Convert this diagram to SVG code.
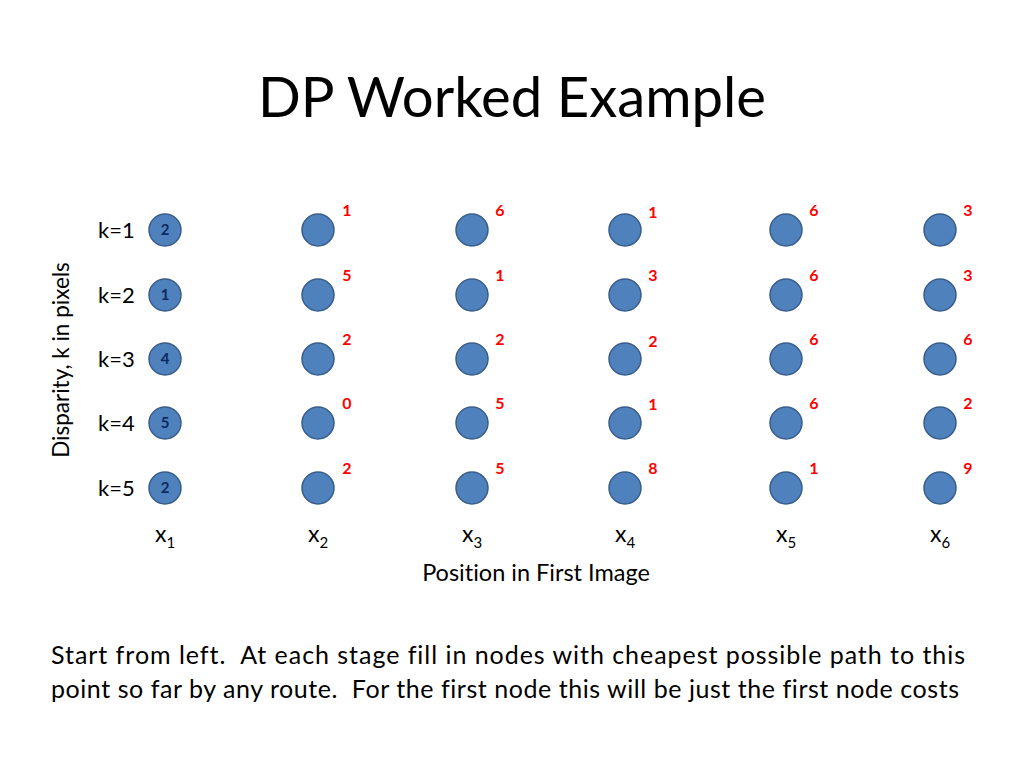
<svg xmlns="http://www.w3.org/2000/svg" width="1024" height="768" viewBox="0 0 1024 768">
<style>
text{font-family:"Lato","Liberation Sans",sans-serif;fill:#000;font-variant-ligatures:none}
.node{fill:#4F81BD;stroke:#385D8A;stroke-width:1.5}
.cost{font-size:16px;font-weight:bold;fill:#FF0000;text-anchor:middle}
.val{font-size:15px;font-weight:bold;fill:#0D2A5E;text-anchor:middle}
.k{font-size:22px}
.xl{font-size:23px;text-anchor:middle}
.sub{font-size:15px}
.body{font-size:25px}
</style>
<rect width="1024" height="768" fill="#fff"/>
<text x="512" y="117" font-size="56" text-anchor="middle" textLength="508" lengthAdjust="spacingAndGlyphs">DP Worked Example</text>
<text transform="translate(69,360) rotate(-90)" font-size="22.5" text-anchor="middle">Disparity, k in pixels</text>
<g id="klabels">
<text class="k" x="98" y="238">k=1</text>
<text class="k" x="98" y="303">k=2</text>
<text class="k" x="98" y="367">k=3</text>
<text class="k" x="98" y="431">k=4</text>
<text class="k" x="98" y="496">k=5</text>
</g>
<g id="connectors"></g>
<g id="col1">
<g id="n1_1"><circle class="node" cx="165" cy="230" r="16"/><text class="val" x="165" y="235">2</text></g>
<g id="n1_2"><circle class="node" cx="165" cy="295" r="16"/><text class="val" x="165" y="300">1</text></g>
<g id="n1_3"><circle class="node" cx="165" cy="359" r="16"/><text class="val" x="165" y="364">4</text></g>
<g id="n1_4"><circle class="node" cx="165" cy="423" r="16"/><text class="val" x="165" y="428">5</text></g>
<g id="n1_5"><circle class="node" cx="165" cy="488" r="16"/><text class="val" x="165" y="493">2</text></g>
</g>
<g id="col2">
<g id="n2_1"><circle class="node" cx="318" cy="230" r="16"/><text class="cost" x="347" y="216">1</text></g>
<g id="n2_2"><circle class="node" cx="318" cy="295" r="16"/><text class="cost" x="347" y="281">5</text></g>
<g id="n2_3"><circle class="node" cx="318" cy="359" r="16"/><text class="cost" x="347" y="345">2</text></g>
<g id="n2_4"><circle class="node" cx="318" cy="423" r="16"/><text class="cost" x="347" y="409">0</text></g>
<g id="n2_5"><circle class="node" cx="318" cy="488" r="16"/><text class="cost" x="347" y="474">2</text></g>
</g>
<g id="col3">
<g id="n3_1"><circle class="node" cx="472" cy="230" r="16"/><text class="cost" x="500" y="216">6</text></g>
<g id="n3_2"><circle class="node" cx="472" cy="295" r="16"/><text class="cost" x="500" y="281">1</text></g>
<g id="n3_3"><circle class="node" cx="472" cy="359" r="16"/><text class="cost" x="500" y="345">2</text></g>
<g id="n3_4"><circle class="node" cx="472" cy="423" r="16"/><text class="cost" x="500" y="409">5</text></g>
<g id="n3_5"><circle class="node" cx="472" cy="488" r="16"/><text class="cost" x="500" y="474">5</text></g>
</g>
<g id="col4">
<g id="n4_1"><circle class="node" cx="625" cy="230" r="16"/><text class="cost" x="653" y="218">1</text></g>
<g id="n4_2"><circle class="node" cx="625" cy="295" r="16"/><text class="cost" x="653" y="281">3</text></g>
<g id="n4_3"><circle class="node" cx="625" cy="359" r="16"/><text class="cost" x="653" y="347">2</text></g>
<g id="n4_4"><circle class="node" cx="625" cy="423" r="16"/><text class="cost" x="653" y="410">1</text></g>
<g id="n4_5"><circle class="node" cx="625" cy="488" r="16"/><text class="cost" x="653" y="474">8</text></g>
</g>
<g id="col5">
<g id="n5_1"><circle class="node" cx="786" cy="230" r="16"/><text class="cost" x="814" y="216">6</text></g>
<g id="n5_2"><circle class="node" cx="786" cy="295" r="16"/><text class="cost" x="814" y="281">6</text></g>
<g id="n5_3"><circle class="node" cx="786" cy="359" r="16"/><text class="cost" x="814" y="345">6</text></g>
<g id="n5_4"><circle class="node" cx="786" cy="423" r="16"/><text class="cost" x="814" y="409">6</text></g>
<g id="n5_5"><circle class="node" cx="786" cy="488" r="16"/><text class="cost" x="814" y="474">1</text></g>
</g>
<g id="col6">
<g id="n6_1"><circle class="node" cx="940" cy="230" r="16"/><text class="cost" x="968" y="216">3</text></g>
<g id="n6_2"><circle class="node" cx="940" cy="295" r="16"/><text class="cost" x="968" y="281">3</text></g>
<g id="n6_3"><circle class="node" cx="940" cy="359" r="16"/><text class="cost" x="968" y="345">6</text></g>
<g id="n6_4"><circle class="node" cx="940" cy="423" r="16"/><text class="cost" x="968" y="409">2</text></g>
<g id="n6_5"><circle class="node" cx="940" cy="488" r="16"/><text class="cost" x="968" y="474">9</text></g>
</g>
<g id="xlabels">
<text class="xl" x="165" y="542">x<tspan class="sub" dy="6">1</tspan></text>
<text class="xl" x="318" y="542">x<tspan class="sub" dy="6">2</tspan></text>
<text class="xl" x="472" y="542">x<tspan class="sub" dy="6">3</tspan></text>
<text class="xl" x="625" y="542">x<tspan class="sub" dy="6">4</tspan></text>
<text class="xl" x="786" y="542">x<tspan class="sub" dy="6">5</tspan></text>
<text class="xl" x="940" y="542">x<tspan class="sub" dy="6">6</tspan></text>
</g>
<text x="536" y="581" font-size="23.5" text-anchor="middle">Position in First Image</text>
<text class="body" x="51" y="664" textLength="914" lengthAdjust="spacing" xml:space="preserve">Start from left.  At each stage fill in nodes with cheapest possible path to this</text>
<text class="body" x="51" y="698" textLength="908" lengthAdjust="spacing" xml:space="preserve">point so far by any route.  For the first node this will be just the first node costs</text>
</svg>
